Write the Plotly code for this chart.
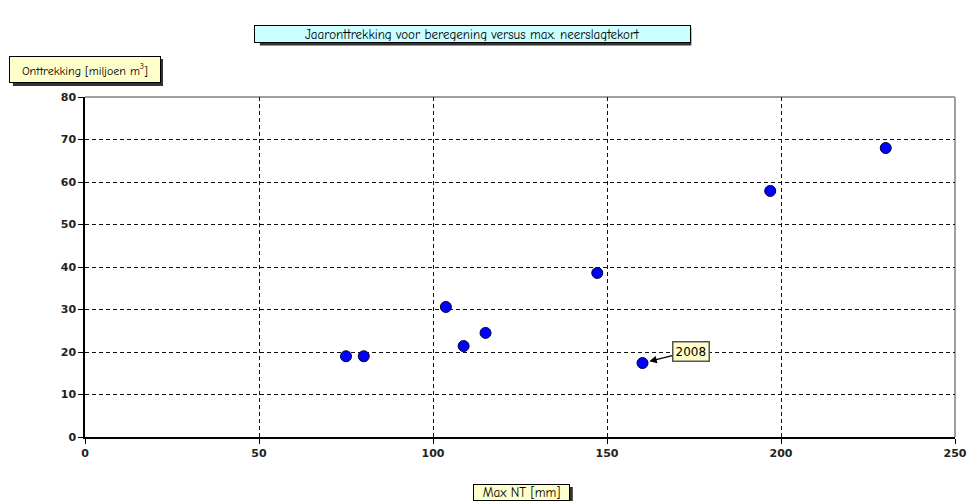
import plotly.graph_objects as go

max_nt = [75.0, 80.1, 103.7, 108.8, 115.1, 147.2, 160.2, 196.9, 230.1]
onttrekking = [19.0, 19.0, 30.6, 21.4, 24.5, 38.6, 17.4, 57.9, 68.0]
x_ticks = [0, 50, 100, 150, 200, 250]
y_ticks = [0, 10, 20, 30, 40, 50, 60, 70, 80]
label_year = "2008"
label_x, label_y = 160.2, 17.4

title_text = "Jaaronttrekking voor beregening versus max. neerslagtekort"
ytitle_text = "Onttrekking [miljoen m<sup>3</sup>]"
xtitle_text = "Max NT [mm]"

L, R, T, B = 85, 13, 97, 64
W, H = 979, 501
PW, PH = W - L - R, H - T - B

def px(xp):
    return (xp - L) / PW

def py(yp):
    return (H - B - yp) / PH

comic = "Comic Sans MS, Comic Neue, Open Sans, sans-serif"

fig = go.Figure()
fig.add_trace(go.Scatter(
    x=max_nt, y=onttrekking, mode="markers",
    marker=dict(size=11, color="#0000FF", line=dict(color="#000033", width=1)),
    showlegend=False, hoverinfo="x+y"))

axis_common = dict(
    showline=True, linecolor="black", linewidth=1.5,
    ticks="outside", ticklen=5, tickcolor="black",
    showgrid=True, gridcolor="#111111", griddash="4px,3px", gridwidth=1,
    zeroline=False,
    tickfont=dict(family="DejaVu Sans", size=11, color="#222222", weight="bold"),
)
fig.update_xaxes(range=[0, 250], tickvals=x_ticks, **axis_common)
fig.update_yaxes(range=[0, 80], tickvals=y_ticks, **axis_common)

boxes = [
    # (center px x, center px y, width, height, text, bg, fontsize)
    (477.5, 33.5, 437, 18, title_text, "#CCFFFF", 13),
    (85, 69.5, 152, 27, ytitle_text, "#FFFFCC", 12),
    (527.5, 492.5, 97, 17, xtitle_text, "#FFFFCC", 13),
]
shapes = []
annotations = []
for cx, cy, w, h, txt, bg, fs in boxes:
    # shadow
    shapes.append(dict(type="rect", xref="paper", yref="paper",
                       x0=px(cx - w / 2 + 3), x1=px(cx + w / 2 + 3),
                       y0=py(cy + h / 2 + 3), y1=py(cy - h / 2 + 3),
                       fillcolor="#333333", line=dict(width=0), layer="above"))
    annotations.append(dict(xref="paper", yref="paper", x=px(cx), y=py(cy),
                            text=txt, showarrow=False, xanchor="center", yanchor="middle",
                            width=w - 4, height=h - 4, borderpad=1,
                            bgcolor=bg, bordercolor="black", borderwidth=1,
                            font=dict(family=comic, size=fs, color="black")))

annotations.append(dict(x=label_x, y=label_y, xref="x", yref="y", text=label_year,
                        showarrow=True, arrowhead=2, arrowsize=1, arrowwidth=1.5,
                        arrowcolor="black", ax=48, ay=-12, standoff=7,
                        bgcolor="#FFFFCC", bordercolor="#555555", borderwidth=1.5,
                        borderpad=2,
                        font=dict(family="DejaVu Sans", size=12, color="black")))

# top and right gray border
shapes.append(dict(type="line", xref="paper", yref="paper", x0=0, x1=1, y0=1, y1=1,
                   line=dict(color="#A0A0A0", width=2), layer="below"))
shapes.append(dict(type="line", xref="paper", yref="paper", x0=1, x1=1, y0=0, y1=1,
                   line=dict(color="#A0A0A0", width=2), layer="below"))

fig.update_layout(
    width=W, height=H,
    margin=dict(l=L, r=R, t=T, b=B),
    paper_bgcolor="white", plot_bgcolor="white",
    shapes=shapes, annotations=annotations,
)

fig.write_html("out.html", config={"displayModeBar": False},
               post_script="document.body.style.margin='0';document.body.style.overflow='hidden';")
